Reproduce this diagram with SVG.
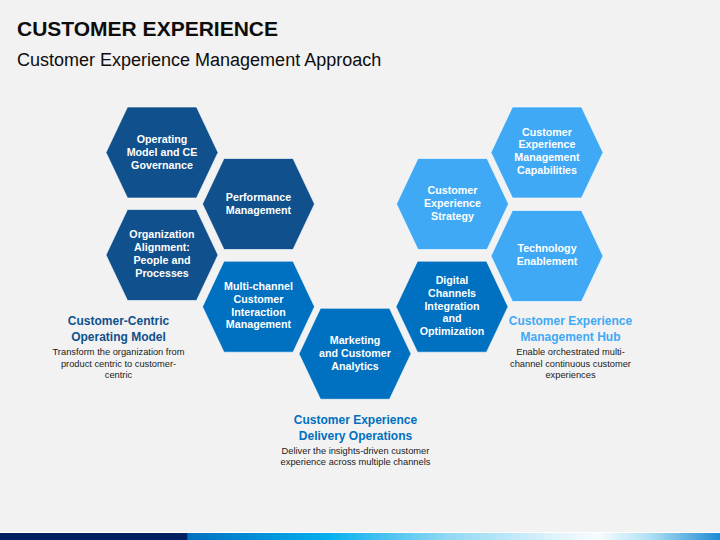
<svg xmlns="http://www.w3.org/2000/svg" width="720" height="540" viewBox="0 0 720 540">
  <style>
    .title { font-family: "Liberation Sans", Arial, sans-serif; font-weight: bold; font-size: 21px; fill: #0d0d0d; }
    .subtitle { font-family: "Liberation Sans", Arial, sans-serif; font-size: 18px; fill: #0d0d0d; }
    .hx { stroke: #ffffff; stroke-opacity: 0.6; stroke-width: 1; }
    .dark { fill: #10508c; }
    .mid { fill: #0070c0; }
    .light { fill: #3fa9f5; }
    .ht { font-family: "Liberation Sans", Arial, sans-serif; font-weight: bold; font-size: 10.7px; fill: #ffffff; text-anchor: middle; }
    .cap { font-family: "Liberation Sans", Arial, sans-serif; font-weight: bold; font-size: 12px; text-anchor: middle; }
    .desc { font-family: "Liberation Sans", Arial, sans-serif; font-size: 9.3px; fill: #1a1a1a; text-anchor: middle; }
  </style>
  <defs>
    <path id="hex" d="M-34.5,-45.5 L34.5,-45.5 L56,0 L34.5,45.5 L-34.5,45.5 L-56,0 Z"/>
    <linearGradient id="bar" x1="0" y1="0" x2="720" y2="0" gradientUnits="userSpaceOnUse">
      <stop offset="0" stop-color="#002060"/>
      <stop offset="0.259" stop-color="#002060"/>
      <stop offset="0.261" stop-color="#0070c0"/>
      <stop offset="0.45" stop-color="#00aeee"/>
      <stop offset="0.62" stop-color="#8fd8f4"/>
      <stop offset="0.78" stop-color="#e4f5fc"/>
      <stop offset="0.83" stop-color="#f7fcfe"/>
      <stop offset="0.9" stop-color="#b3e2f6"/>
      <stop offset="1" stop-color="#1f8bd3"/>
    </linearGradient>
  </defs>

  <rect x="0" y="0" width="720" height="540" fill="#f2f2f2"/>

  <g id="header">
    <text class="title" x="17" y="36">CUSTOMER EXPERIENCE</text>
    <text class="subtitle" x="17" y="66">Customer Experience Management Approach</text>
  </g>

  <g id="connectors"></g>

  <g id="node-operating-model">
    <use href="#hex" x="162" y="152.5" class="hx dark"/>
    <text class="ht"><tspan x="162" y="143">Operating</tspan><tspan x="162" y="155.8">Model and CE</tspan><tspan x="162" y="168.6">Governance</tspan></text>
  </g>

  <g id="node-performance">
    <use href="#hex" x="258.5" y="204" class="hx dark"/>
    <text class="ht"><tspan x="258.5" y="200.9">Performance</tspan><tspan x="258.5" y="213.7">Management</tspan></text>
  </g>

  <g id="node-organization">
    <use href="#hex" x="162" y="255" class="hx dark"/>
    <text class="ht"><tspan x="162" y="238.4">Organization</tspan><tspan x="162" y="251.2">Alignment:</tspan><tspan x="162" y="264">People and</tspan><tspan x="162" y="276.8">Processes</tspan></text>
  </g>

  <g id="node-multichannel">
    <use href="#hex" x="258.5" y="306.7" class="hx mid"/>
    <text class="ht"><tspan x="258.5" y="290">Multi-channel</tspan><tspan x="258.5" y="302.8">Customer</tspan><tspan x="258.5" y="315.6">Interaction</tspan><tspan x="258.5" y="328.4">Management</tspan></text>
  </g>

  <g id="node-marketing">
    <use href="#hex" x="355" y="353.8" class="hx mid"/>
    <text class="ht"><tspan x="355" y="344.3">Marketing</tspan><tspan x="355" y="357">and Customer</tspan><tspan x="355" y="369.7">Analytics</tspan></text>
  </g>

  <g id="node-digital">
    <use href="#hex" x="452" y="306.7" class="hx mid"/>
    <text class="ht"><tspan x="452" y="284">Digital</tspan><tspan x="452" y="296.8">Channels</tspan><tspan x="452" y="309.6">Integration</tspan><tspan x="452" y="322.4">and</tspan><tspan x="452" y="335.2">Optimization</tspan></text>
  </g>

  <g id="node-ce-strategy">
    <use href="#hex" x="452.5" y="204" class="hx light"/>
    <text class="ht"><tspan x="452.5" y="194">Customer</tspan><tspan x="452.5" y="206.8">Experience</tspan><tspan x="452.5" y="219.6">Strategy</tspan></text>
  </g>

  <g id="node-cem-capabilities">
    <use href="#hex" x="547" y="152.5" class="hx light"/>
    <text class="ht"><tspan x="547" y="135.6">Customer</tspan><tspan x="547" y="148.4">Experience</tspan><tspan x="547" y="161.2">Management</tspan><tspan x="547" y="174">Capabilities</tspan></text>
  </g>

  <g id="node-technology">
    <use href="#hex" x="547" y="256" class="hx light"/>
    <text class="ht"><tspan x="547" y="252.4">Technology</tspan><tspan x="547" y="265.2">Enablement</tspan></text>
  </g>

  <g id="caption-operating-model">
    <text class="cap" fill="#10508c"><tspan x="118.5" y="325">Customer-Centric</tspan><tspan x="118.5" y="341">Operating Model</tspan></text>
    <text class="desc"><tspan x="118.5" y="355">Transform the organization from</tspan><tspan x="118.5" y="366.5">product centric to customer-</tspan><tspan x="118.5" y="378">centric</tspan></text>
  </g>

  <g id="caption-delivery">
    <text class="cap" fill="#0070c0"><tspan x="355.5" y="424">Customer Experience</tspan><tspan x="355.5" y="439.5">Delivery Operations</tspan></text>
    <text class="desc"><tspan x="355.5" y="453.5">Deliver the insights-driven customer</tspan><tspan x="355.5" y="465">experience across multiple channels</tspan></text>
  </g>

  <g id="caption-hub">
    <text class="cap" fill="#3fa9f5"><tspan x="570.5" y="325">Customer Experience</tspan><tspan x="570.5" y="341">Management Hub</tspan></text>
    <text class="desc"><tspan x="570.5" y="355">Enable orchestrated multi-</tspan><tspan x="570.5" y="366.5">channel continuous customer</tspan><tspan x="570.5" y="378">experiences</tspan></text>
  </g>

  <g id="footer-bar">
    <rect x="0" y="533" width="720" height="7" fill="url(#bar)"/>
    <line x1="0" y1="532.5" x2="720" y2="532.5" stroke="#ffffff" stroke-width="1"/>
  </g>
</svg>
